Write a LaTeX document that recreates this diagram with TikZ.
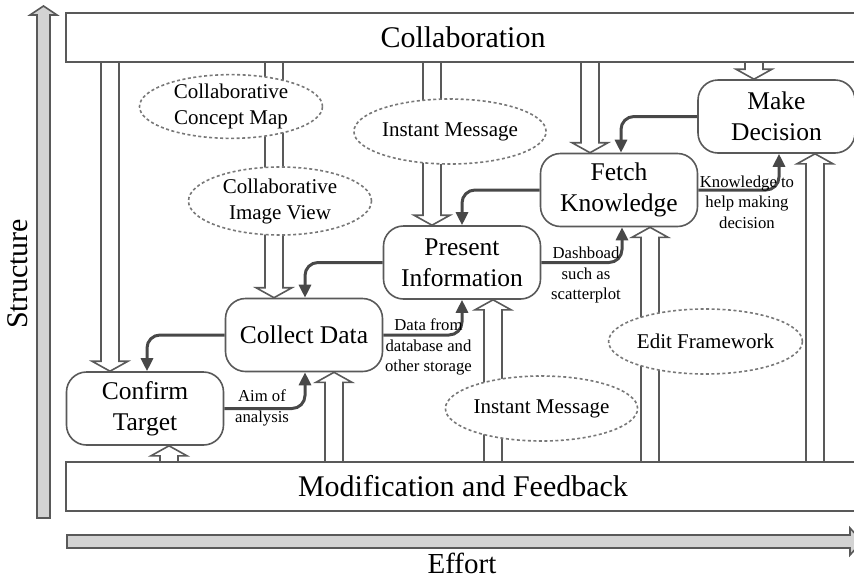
\documentclass[tikz,border=0pt]{standalone}
\usepackage{fontspec}
\setmainfont{Liberation Serif}
\usetikzlibrary{calc,arrows.meta,shapes.geometric}
\definecolor{linegray}{RGB}{89,89,89}
\definecolor{flowgray}{RGB}{72,72,72}
\definecolor{dashgray}{RGB}{120,120,120}
\definecolor{fillgray}{RGB}{211,211,211}
\tikzset{
  bar/.style={draw=linegray, line width=1.6pt, fill=white, minimum width=794pt, minimum height=49pt, inner sep=0pt, font=\fontsize{30}{36}\selectfont},
  task/.style={draw=linegray, line width=1.6pt, fill=white, rounded corners=20pt, minimum width=157pt, minimum height=73pt, inner sep=0pt, align=center, font=\fontsize{25.5}{31}\selectfont},
  tool/.style={ellipse, draw=dashgray, dash pattern=on 3pt off 2.5pt, line width=1.6pt, fill=white, minimum width=183pt, minimum height=65pt, inner sep=0pt, align=center, font=\fontsize{21}{26}\selectfont},
  note/.style={inner sep=0pt, align=center, font=\fontsize{16.7}{20.5}\selectfont},
  flowarrow/.style={draw=flowgray, line width=3pt, rounded corners=13pt, -{Triangle[length=13pt,width=12pt]}},
  hollow/.style={draw=linegray, line width=1.6pt, line join=miter},
  axisarrow/.style={draw=linegray, fill=fillgray, line width=1.6pt, line join=miter}
}
\def\hollowarrow(#1)(#2)(#3){%
  \coordinate (hatip) at ([xshift=#3]#2);
  \coordinate (hatail) at (#1 -| hatip);
  \draw[hollow] ($(hatail)+(-9,0)$) -- ($(hatip)!10pt!(hatail)+(-9,0)$) -- ($(hatip)!10pt!(hatail)+(-18,0)$) -- (hatip) -- ($(hatip)!10pt!(hatail)+(18,0)$) -- ($(hatip)!10pt!(hatail)+(9,0)$) -- ($(hatail)+(9,0)$);
}
\begin{document}
\begin{tikzpicture}[x=1pt,y=-1pt]
  \useasboundingbox (0,0) rectangle (854,579);
  %%%%% bars
  \node[bar] (collab) at (463,37.5) {Collaboration};
  \node[bar] (modfb) at (463,486.5) {Modification and Feedback};

  %%%%% steps
  \node[task] (confirm) at (145,408.5) {Confirm\\Target};
  \node[task] (collect) at (304,335) {Collect Data};
  \node[task] (present) at (462,262.5) {Present\\Information};
  \node[task] (fetch) at (619,190) {Fetch\\Knowledge};
  \node[task] (decide) at (776.5,116.5) {Make\\Decision};

  %%%%% flow between steps
  \draw[flowarrow] (collect.west) -| ([xshift=2pt]confirm.north);
  \draw[flowarrow] (confirm.east) -| ([xshift=1pt]collect.south);
  \draw[flowarrow] (present.west) -| ([xshift=1pt]collect.north);
  \draw[flowarrow] (collect.east) -| (present.south);
  \draw[flowarrow] (fetch.west) -| (present.north);
  \draw[flowarrow] (present.east) -| ([xshift=3pt]fetch.south);
  \draw[flowarrow] (decide.west) -| ([xshift=2pt]fetch.north);
  \draw[flowarrow] (fetch.east) -| ([xshift=2.5pt]decide.south);

  \node[note] (aimlbl) at (262,408) {Aim of\\analysis};
  \node[note] (datalbl) at (428.5,347) {Data from\\database and\\other storage};
  \node[note] (dashlbl) at (586,275) {Dashboad\\such as\\scatterplot};
  \node[note] (knowlbl) at (747,202) {Knowledge to\\help making\\decision};

  %%%%% from collaboration
  \hollowarrow(collab.south)(confirm.north)(-35pt)
  \hollowarrow(collab.south)(collect.north)(-30pt)
  \hollowarrow(collab.south)(present.north)(-30pt)
  \hollowarrow(collab.south)(fetch.north)(-29pt)
  \hollowarrow(collab.south)(decide.north)(-22.5pt)

  %%%%% from modification and feedback
  \hollowarrow(modfb.north)(confirm.south)(24pt)
  \hollowarrow(modfb.north)(collect.south)(30pt)
  \hollowarrow(modfb.north)(present.south)(31pt)
  \hollowarrow(modfb.north)(fetch.south)(31pt)
  \hollowarrow(modfb.north)(decide.south)(38.5pt)

  %%%%% tools
  \node[tool, minimum height=61pt] (conceptmap) at (231,106.5) {Collaborative\\Concept Map};
  \node[tool, minimum height=68pt] (imageview) at (280,201) {Collaborative\\Image View};
  \node[tool] (msgtop) at (450,131.5) {Instant Message};
  \node[tool, minimum width=185pt] (msgbot) at (541.5,408.5) {Instant Message};
  \node[tool] (editfw) at (705.5,341.5) {Edit Framework};

  %%%%% axes
  \draw[axisarrow] (37,518) -- (37,15) -- (30,15) -- (43.5,6) -- (57,15) -- (50,15) -- (50,518) -- cycle;
  \draw[axisarrow] (67,535) -- (850,535) -- (850,528) -- (862,541.5) -- (850,555) -- (850,548) -- (67,548) -- cycle;
  \node[rotate=90, font=\fontsize{30}{36}\selectfont] (structlbl) at (18,274) {Structure};
  \node[font=\fontsize{29}{35}\selectfont] (effortlbl) at (462,563.5) {Effort};
\end{tikzpicture}
\end{document}
